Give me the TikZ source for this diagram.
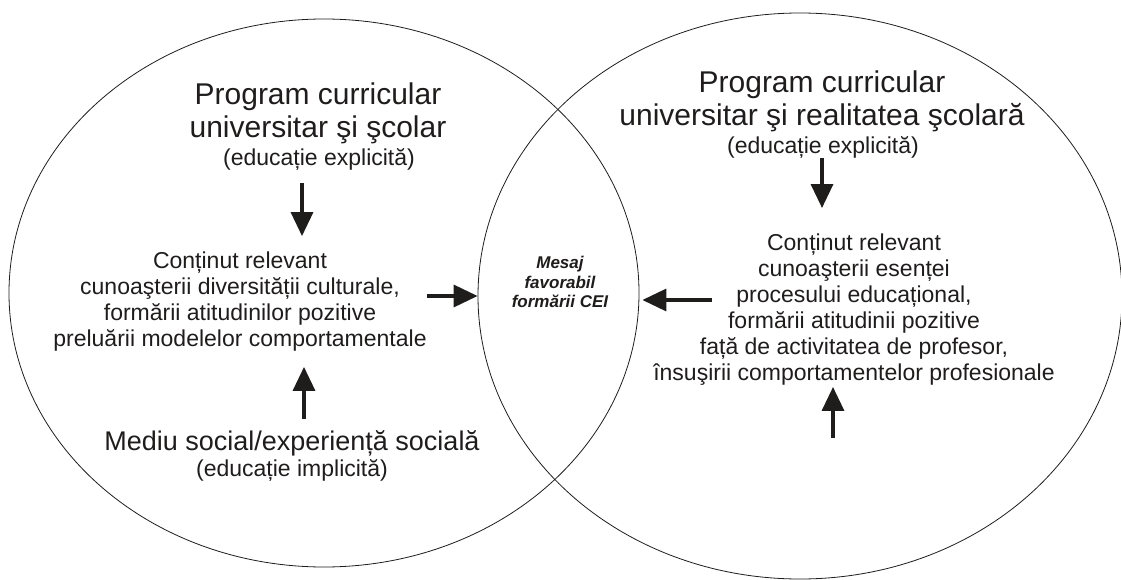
\documentclass[tikz,border=0pt]{standalone}
\usepackage{fontspec}
\setmainfont{Liberation Sans}
\usetikzlibrary{shapes.geometric,arrows.meta}
\definecolor{dgray}{rgb}{0.12,0.11,0.11}

\begin{document}
\begin{tikzpicture}[x=1pt,y=-1pt,
  ring/.style={draw=dgray, line width=0.8pt, ellipse, inner sep=0pt},
  big/.style={align=center, inner sep=0pt, text=dgray, font=\fontsize{30}{33}\selectfont},
  mid/.style={align=center, inner sep=0pt, text=dgray, font=\fontsize{23}{26}\selectfont},
  msg/.style={align=center, inner sep=0pt, text=dgray, font=\fontsize{17}{19.5}\selectfont\bfseries\itshape},
  fat/.style={draw=dgray, line width=3.4pt, -{Triangle[length=24pt,width=22pt]}}]
\useasboundingbox (0,0) rectangle (1121,580);
\node[ring, minimum width=630pt, minimum height=548pt] (lcirc) at (324,293) {};
\node[ring, minimum width=644pt, minimum height=566pt] (rcirc) at (800,296) {};
% left circle
\node[big] (ltitle) at (318,113) {Program curricular\\universitar şi şcolar};
\node[mid] (lexpl) at (319,159) {(educație explicită)};
\node[mid] (lcont) at (240,302) {Conținut relevant\\cunoaşterii diversității culturale,\\formării atitudinilor pozitive\\preluării modelelor comportamentale};
\node[big, font=\fontsize{27}{30}\selectfont] (lsoc) at (292,443) {Mediu social/experiență socială};
\node[mid] (limpl) at (292,470) {(educație implicită)};
% middle
\node[msg] (mesaj) at (560,282) {Mesaj\\favorabil\\formării CEI};
% right circle
\node[big] (rtitle) at (822,101) {Program curricular\\universitar şi realitatea şcolară};
\node[mid] (rexpl) at (823,147) {(educație explicită)};
\node[mid] (rcont) at (854,310) {Conținut relevant\\cunoaşterii esenței\\procesului educațional,\\formării atitudinii pozitive\\față de activitatea de profesor,\\însuşirii comportamentelor profesionale};
% arrows
\coordinate (lax) at (302,0);
\coordinate (lbx) at (304,0);
\coordinate (rax) at (822,0);
\coordinate (rup) at (833,438);
\coordinate (rtail) at (712,300);
\draw[fat, shorten <=13pt, shorten >=16pt] (lexpl.south -| lax) -- (lcont.north -| lax);
\draw[fat, shorten <=11pt, shorten >=15pt] (lsoc.north -| lbx) -- (lcont.south -| lbx);
\draw[fat] (lcont.east |- rcirc.west) -- (rcirc.west);
\draw[fat, shorten >=3pt] (rtail) -- (rtail -| lcirc.east);
\draw[fat, shorten <=0pt, shorten >=26pt] (rexpl.south -| rax) -- (rcont.north -| rax);
\draw[fat, shorten >=1pt] (rup) -- (rup |- rcont.south);
\end{tikzpicture}
\end{document}
